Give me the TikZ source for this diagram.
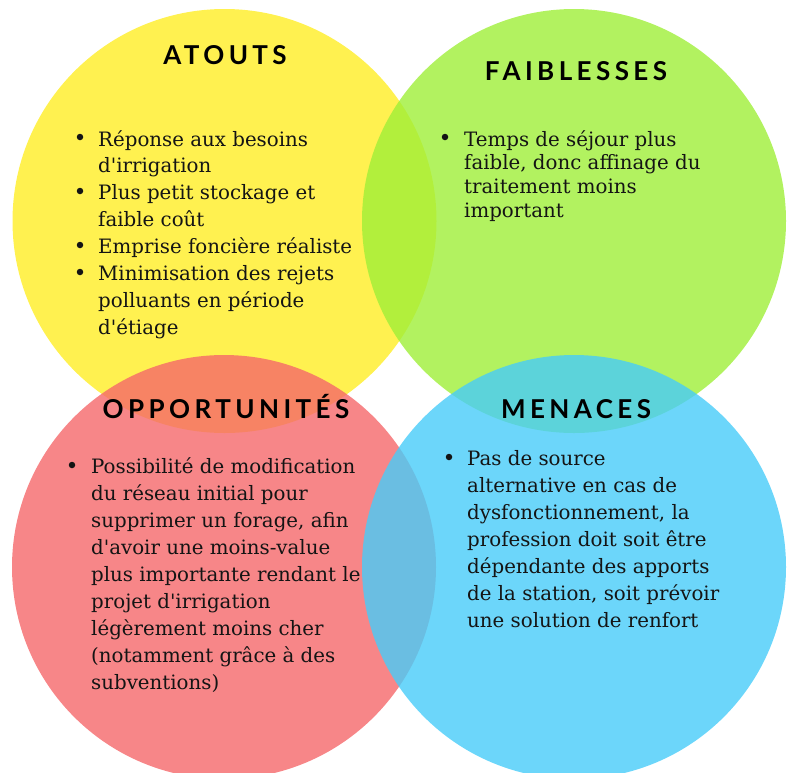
\documentclass[tikz,border=0pt]{standalone}
\usepackage{fontspec}
\setmainfont{DejaVu Serif}
\newfontfamily\titlefont{Lato}[LetterSpace=17]
\newcommand{\ap}{\textquotesingle}
\definecolor{cyel}{RGB}{255,241,80}
\definecolor{cgreen}{RGB}{159,239,56}
\definecolor{cred}{RGB}{245,104,106}
\definecolor{cblue}{RGB}{71,204,249}
\definecolor{ctext}{RGB}{20,20,20}
\begin{document}
\begin{tikzpicture}[x=1pt,y=-1pt,
  disc/.style={circle,inner sep=0pt,minimum size=424pt,draw=none},
  ttl/.style={anchor=base,font=\titlefont\bfseries\fontsize{26}{30}\selectfont,text=black,inner sep=0pt},
  body/.style={anchor=base west,font=\fontsize{19.8}{24}\selectfont,text=ctext,inner sep=0pt},
  bul/.style={circle,fill=ctext,inner sep=0pt,minimum size=6.5pt}]
\useasboundingbox (0,0) rectangle (792,772);
\node[disc,fill=cyel] (cA) at (224.5,221) {};
\node[disc,fill=cgreen,fill opacity=0.8] (cF) at (574,221) {};
\node[disc,fill=cred,fill opacity=0.8] (cO) at (224,567) {};
\node[disc,fill=cblue,fill opacity=0.8] (cM) at (574,567) {};
% titles
\node[ttl] (tA) at (225,64) {ATOUTS};
\node[ttl] (tF) at (576,80) {FAIBLESSES};
\node[ttl] (tO) at (226,418) {OPPORTUNITÉS};
\node[ttl] (tM) at (576,418) {MENACES};
% ATOUTS
\foreach \t [count=\i] in {Réponse aux besoins,{d\ap{}irrigation},Plus petit stockage et,faible coût,Emprise foncière réaliste,Minimisation des rejets,polluants en période,{d\ap{}étiage}}
  \node[body] (a\i) at (98,{146+(\i-1)*26.9}) {\t};
\foreach \y [count=\i] in {137,191,245,272}
  \node[bul] (ba\i) at (80,\y) {};
% FAIBLESSES
\foreach \t [count=\i] in {Temps de séjour plus,{faible, donc affinage du},traitement moins,important}
  \node[body] (f\i) at (464,{146+(\i-1)*23.8}) {\t};
\node[bul] (bf1) at (445,137) {};
% OPPORTUNITES
\foreach \t [count=\i] in {Possibilité de modification,du réseau initial pour,{supprimer un forage, afin},{d\ap{}avoir une moins-value},plus importante rendant le,{projet d\ap{}irrigation},légèrement moins cher,{(notamment grâce à des},subventions)}
  \node[body] (o\i) at (91,{473+(\i-1)*27}) {\t};
\node[bul] (bo1) at (72,465) {};
% MENACES
\foreach \t [count=\i] in {Pas de source,alternative en cas de,{dysfonctionnement, la},profession doit soit être,dépendante des apports,{de la station, soit prévoir},une solution de renfort}
  \node[body] (m\i) at (467,{465+(\i-1)*27}) {\t};
\node[bul] (bm1) at (449,457) {};
\end{tikzpicture}
\end{document}
